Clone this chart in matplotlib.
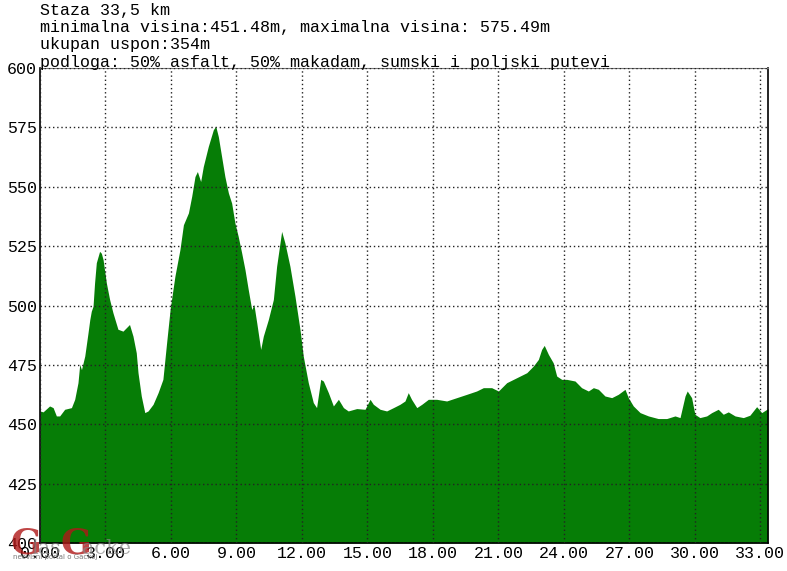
import matplotlib
matplotlib.use("Agg")
from matplotlib import pyplot as plt

# elevation profile (km, m)
km = [0.00, 0.14, 0.44, 0.60, 0.75, 0.90, 1.13, 1.44, 1.59, 1.74, 1.82, 1.90,
      2.05, 2.20, 2.28, 2.35, 2.43, 2.50, 2.58, 2.73, 2.81, 2.89, 3.04, 3.19,
      3.34, 3.57, 3.80, 3.95, 4.10, 4.26, 4.41, 4.49, 4.64, 4.80, 4.95, 5.18,
      5.41, 5.63, 5.80, 5.96, 6.18, 6.41, 6.57, 6.80, 6.95, 7.10, 7.21, 7.36,
      7.48, 7.71, 7.94, 8.05, 8.17, 8.32, 8.47, 8.63, 8.78, 8.93, 9.08, 9.24,
      9.39, 9.54, 9.70, 9.80, 9.93, 10.11, 10.23, 10.46, 10.69, 10.84, 11.07,
      11.22, 11.45, 11.68, 11.91, 12.06, 12.29, 12.52, 12.67, 12.86, 12.98,
      13.21, 13.44, 13.67, 13.90, 14.12, 14.51, 14.89, 15.12, 15.27, 15.58,
      15.88, 16.19, 16.49, 16.72, 16.87, 17.02, 17.26, 17.49, 17.79, 18.17,
      18.63, 19.09, 19.55, 20.00, 20.31, 20.69, 21.00, 21.38, 21.84, 22.30,
      22.60, 22.83, 22.98, 23.10, 23.29, 23.51, 23.67, 23.90, 24.13, 24.51,
      24.81, 25.12, 25.35, 25.58, 25.88, 26.19, 26.49, 26.80, 26.95, 27.18,
      27.49, 27.87, 28.32, 28.71, 29.09, 29.32, 29.55, 29.65, 29.85, 30.00,
      30.23, 30.54, 30.77, 31.07, 31.30, 31.53, 31.84, 32.22, 32.52, 32.83,
      33.06, 33.35]
elev = [455.6, 455.2, 457.7, 457.0, 453.5, 453.5, 456.3, 457.0, 460.5, 467.5,
        475.2, 473.0, 478.7, 488.5, 494.0, 497.6, 499.7, 509.5, 518.0, 522.8,
        522.0, 519.3, 509.5, 502.5, 497.0, 490.0, 489.2, 490.6, 492.0, 487.1,
        480.1, 471.7, 461.9, 454.9, 455.6, 458.4, 463.3, 468.9, 484.3, 498.3,
        512.3, 523.5, 534.0, 539.0, 546.0, 554.3, 556.4, 552.2, 558.5, 567.0,
        574.0, 575.5, 571.1, 562.7, 554.3, 547.4, 543.1, 534.7, 529.1, 522.1,
        515.1, 506.7, 498.3, 500.4, 492.7, 481.5, 487.1, 494.1, 502.5, 516.5,
        531.2, 526.3, 516.5, 503.9, 489.9, 478.7, 467.5, 459.1, 457.0, 468.9,
        468.2, 463.3, 457.7, 460.5, 457.0, 455.6, 456.6, 456.3, 460.5, 458.4,
        456.3, 455.6, 457.0, 458.4, 459.8, 463.3, 460.5, 457.0, 458.4, 460.5,
        460.5, 459.8, 461.2, 462.6, 464.0, 465.4, 465.4, 464.0, 467.5, 469.6,
        471.7, 474.5, 477.3, 481.5, 483.2, 479.4, 475.9, 470.3, 468.9, 468.9,
        468.2, 465.4, 464.0, 465.4, 464.7, 461.9, 461.2, 462.6, 464.7, 461.2,
        457.7, 454.9, 453.5, 452.4, 452.4, 453.5, 452.8, 461.9, 464.0, 461.2,
        454.2, 452.8, 453.5, 454.9, 456.3, 454.2, 455.2, 453.5, 452.8, 453.8,
        457.4, 454.9, 456.6]

x_ticks = [0, 3, 6, 9, 12, 15, 18, 21, 24, 27, 30, 33]
y_ticks = [400, 425, 450, 475, 500, 525, 550, 575, 600]
info = ["Staza 33,5 km",
        "minimalna visina:451.48m, maximalna visina: 575.49m",
        "ukupan uspon:354m",
        "podloga: 50% asfalt, 50% makadam, sumski i poljski putevi"]

mono = "Liberation Mono"
W, H = 787, 571

fig = plt.figure(figsize=(W / 100, H / 100), dpi=100)
ax = fig.add_axes([40 / W, 28 / H, 728 / W, 475 / H])

ax.fill_between(km, elev, 400, color="#067d06", lw=0)
ax.set_xlim(0, 33.35)
ax.set_ylim(400, 600)

ax.set_xticks(x_ticks)
ax.set_xticklabels([f"{t:.2f}" for t in x_ticks], family=mono, fontsize=12)
ax.set_yticks(y_ticks)
ax.set_yticklabels([str(t) for t in y_ticks], family=mono, fontsize=12)
ax.tick_params(length=0, pad=2)

# dotted grid over the fill
ax.set_axisbelow(False)
ax.grid(True, color="#222222", lw=1, linestyle=(0, (1, 2)))

for s in ["left", "bottom", "right"]:
    ax.spines[s].set_color("black")
    ax.spines[s].set_linewidth(1.2)
ax.spines["top"].set_color("#777777")

for i, line in enumerate(info):
    fig.text(40 / W, 1 - (10 + 17.5 * i) / H, line, family=mono, fontsize=12,
             va="center", ha="left")

# watermark
fig.text(10 / W, 1 - 543 / H, "G", family="DejaVu Serif", fontsize=26,
         color="#b01818", alpha=0.8, va="center", weight="bold")
fig.text(31 / W, 1 - 548 / H, "las", family="DejaVu Serif", fontsize=15,
         color="#888888", alpha=0.7, va="center")
fig.text(60 / W, 1 - 543 / H, "G", family="DejaVu Serif", fontsize=26,
         color="#b01818", alpha=0.8, va="center", weight="bold")
fig.text(82 / W, 1 - 548 / H, "acke", family="DejaVu Serif", fontsize=15,
         color="#888888", alpha=0.7, va="center")
fig.text(13 / W, 1 - 557 / H, "neovisni portal o Gackoj", fontsize=5,
         color="#777777", va="center")

fig.savefig("out.png", dpi=100)
